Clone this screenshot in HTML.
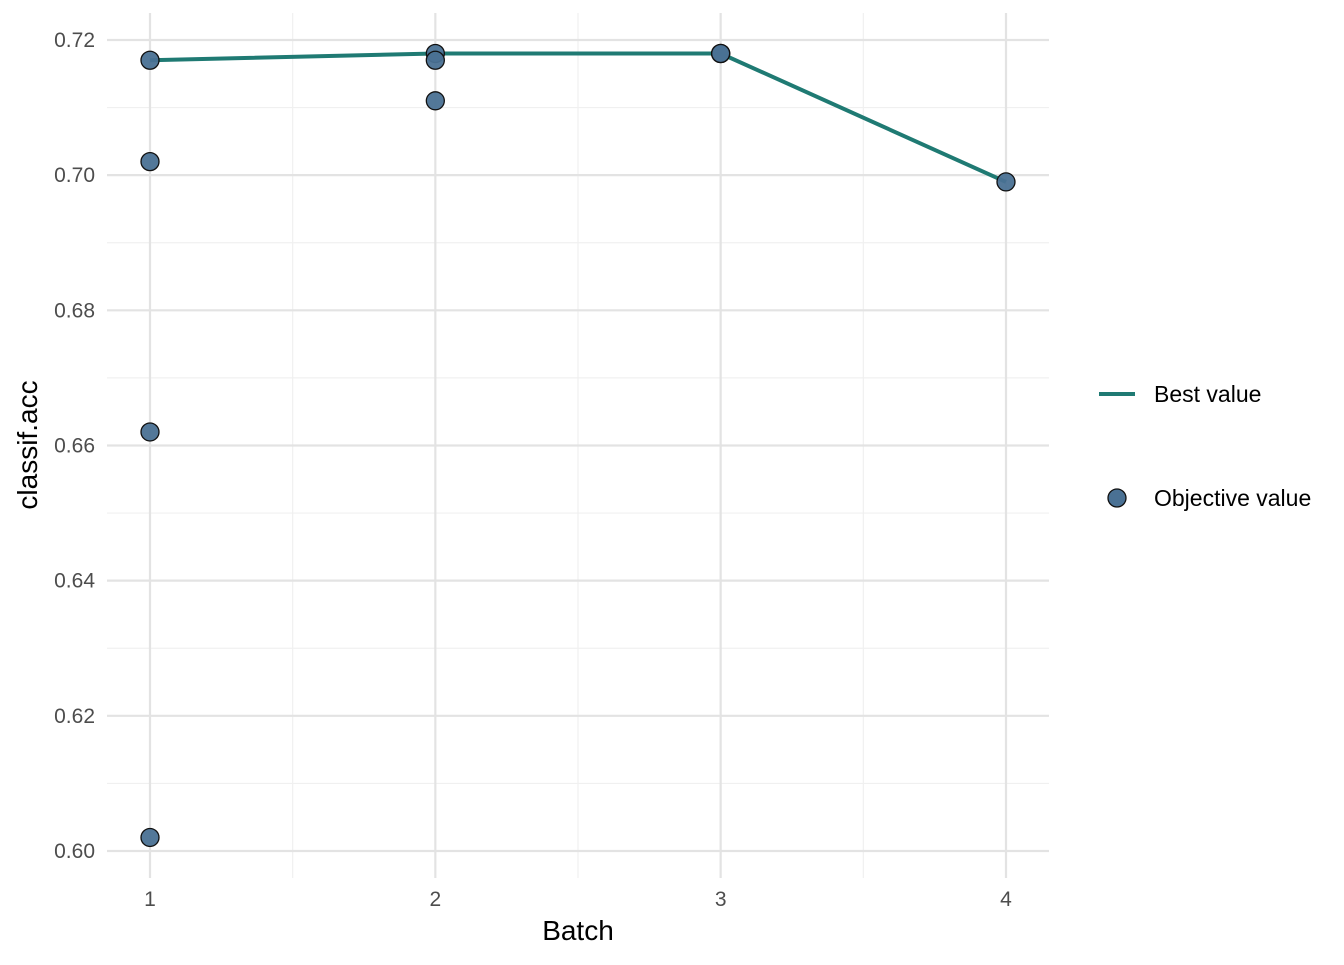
<!DOCTYPE html>
<html><head><meta charset="utf-8"><style>
body{margin:0;background:#fff;font-family:"Liberation Sans",Arial,sans-serif}
</style></head><body>
<svg id="chart" width="1344" height="960" xmlns="http://www.w3.org/2000/svg"></svg>
<script>
const batches=[1,1,1,1,2,2,2,3,3,3,4];
const objValues=[0.717,0.702,0.662,0.602,0.718,0.717,0.711,0.718,0.718,0.718,0.699];
const bestBatches=[1,2,3,4];
const bestValues=[0.717,0.718,0.718,0.699];
const xTicks=[1,2,3,4];
const yTicks=[0.60,0.62,0.64,0.66,0.68,0.70,0.72];
const yMinor=[0.61,0.63,0.65,0.67,0.69,0.71];
const xMinor=[1.5,2.5,3.5];
const svg=document.getElementById('chart');
const NS='http://www.w3.org/2000/svg';
const L=107,R=1049,T=13,B=878;
const X=v=>150+(v-1)*285.33;
const Y=v=>851-(v-0.60)*6758.5;
function mk(t,a,p){const e=document.createElementNS(NS,t);for(const k in a)e.setAttribute(k,a[k]);(p||svg).appendChild(e);return e;}
const grid=mk('g',{});


yMinor.forEach(v=>mk('line',{x1:L,x2:R,y1:Y(v),y2:Y(v),stroke:'#f0f0f0','stroke-width':1.2},grid));
xMinor.forEach(v=>mk('line',{x1:X(v),x2:X(v),y1:T,y2:B,stroke:'#f0f0f0','stroke-width':1.2},grid));
yTicks.forEach(v=>mk('line',{x1:L,x2:R,y1:Y(v),y2:Y(v),stroke:'#e3e3e3','stroke-width':2.2},grid));
xTicks.forEach(v=>mk('line',{x1:X(v),x2:X(v),y1:T,y2:B,stroke:'#e3e3e3','stroke-width':2.2},grid));
yTicks.forEach(v=>{const t=mk('text',{x:95,y:Y(v)+7,'text-anchor':'end','font-size':21,fill:'#4d4d4d'});t.textContent=v.toFixed(2);

});
xTicks.forEach(v=>{const t=mk('text',{x:X(v),y:906,'text-anchor':'middle','font-size':21,fill:'#4d4d4d'});t.textContent=v;

});
const line=mk('polyline',{points:bestBatches.map((b,i)=>X(b)+','+Y(bestValues[i])).join(' '),fill:'none',stroke:'#1f7a73','stroke-width':4});


batches.forEach((b,i)=>{const c=mk('circle',{cx:X(b),cy:Y(objValues[i]),r:9,fill:'#4a7194',stroke:'#111','stroke-width':1.3,'fill-opacity':0.95});

});
let t=mk('text',{x:578,y:940,'text-anchor':'middle','font-size':28,fill:'#000'});t.textContent='Batch';


t=mk('text',{x:0,y:0,transform:'translate(37,445) rotate(-90)','text-anchor':'middle','font-size':28,fill:'#000'});t.textContent='classif.acc';


const lg=mk('g',{});


mk('line',{x1:1099,x2:1135,y1:394,y2:394,stroke:'#1f7a73','stroke-width':4},lg);
t=mk('text',{x:1154,y:402,'font-size':23,fill:'#000'},lg);t.textContent='Best value';


mk('circle',{cx:1117,cy:498,r:9,fill:'#4a7194',stroke:'#111','stroke-width':1.3},lg);
t=mk('text',{x:1154,y:506,'font-size':23,fill:'#000'},lg);t.textContent='Objective value';


</script>
</body></html>
